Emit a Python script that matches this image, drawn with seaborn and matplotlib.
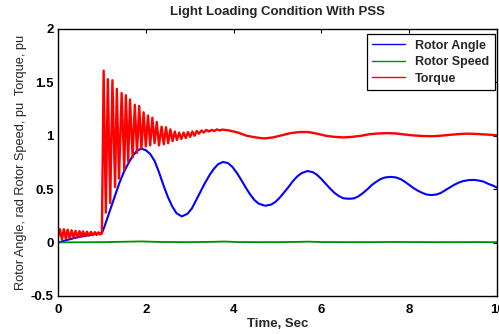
import seaborn as sns
import matplotlib.pyplot as plt
import pandas as pd
import matplotlib.ticker as mtick

# values
angle_t = [0.0, 0.25, 0.5, 0.75, 1.0, 1.05, 1.1, 1.2, 1.3, 1.4, 1.5, 1.6, 1.7, 1.8, 1.9,
           2.0, 2.1, 2.2, 2.3, 2.4, 2.5, 2.6, 2.7, 2.82, 2.95, 3.05, 3.15, 3.25, 3.35, 3.45,
           3.55, 3.65, 3.76, 3.87, 3.97, 4.07, 4.17, 4.27, 4.37, 4.47, 4.57, 4.72, 4.85, 4.95,
           5.05, 5.15, 5.25, 5.35, 5.45, 5.55, 5.68, 5.8, 5.9, 6.0, 6.1, 6.2, 6.3, 6.4, 6.5,
           6.64, 6.75, 6.85, 6.95, 7.05, 7.15, 7.25, 7.35, 7.45, 7.58, 7.7, 7.8, 7.9, 8.0, 8.1,
           8.2, 8.3, 8.4, 8.5, 8.62, 8.72, 8.82, 8.92, 9.02, 9.12, 9.22, 9.35, 9.48, 9.6, 9.7,
           9.8, 9.9, 10.0]
angle_v = [0.0, 0.03, 0.055, 0.072, 0.09, 0.14, 0.2, 0.32, 0.44, 0.56, 0.66, 0.74, 0.81, 0.86, 0.88,
           0.865, 0.83, 0.765, 0.66, 0.54, 0.43, 0.34, 0.275, 0.245, 0.27, 0.32, 0.4, 0.48, 0.56, 0.63,
           0.69, 0.735, 0.755, 0.745, 0.71, 0.655, 0.59, 0.52, 0.455, 0.4, 0.365, 0.345, 0.355, 0.38,
           0.42, 0.47, 0.52, 0.575, 0.62, 0.65, 0.67, 0.66, 0.635, 0.595, 0.55, 0.505, 0.465, 0.435, 0.415,
           0.41, 0.415, 0.435, 0.465, 0.5, 0.54, 0.57, 0.595, 0.61, 0.615, 0.61, 0.595, 0.57, 0.54, 0.51,
           0.485, 0.465, 0.45, 0.445, 0.45, 0.465, 0.49, 0.515, 0.54, 0.56, 0.575, 0.585, 0.587, 0.58, 0.57,
           0.55, 0.535, 0.515]

speed_t = [0.0, 1.0, 1.5, 1.9, 2.3, 3.0, 3.5, 3.8, 4.1, 5.0, 5.5, 5.7, 6.0, 7.0, 7.6, 8.0, 9.0, 9.5, 10.0]
speed_v = [0.002, 0.004, 0.008, 0.011, 0.006, 0.004, 0.007, 0.010, 0.005, 0.004, 0.007, 0.009, 0.005,
           0.004, 0.006, 0.005, 0.004, 0.005, 0.004]

torque_t = [0.0, 0.045, 0.09, 0.135, 0.18, 0.22, 0.265, 0.31, 0.355, 0.40, 0.445, 0.49, 0.53, 0.57,
            0.615, 0.66, 0.70, 0.75, 0.79, 0.84, 0.88, 0.92, 0.96, 0.99, 1.0,
            1.04, 1.09, 1.135, 1.19, 1.24, 1.30, 1.34, 1.39, 1.45, 1.51, 1.545, 1.60, 1.64, 1.70,
            1.75, 1.80, 1.85, 1.90, 1.95, 2.0, 2.05, 2.10, 2.15, 2.20, 2.25, 2.30, 2.36, 2.41,
            2.46, 2.51, 2.56, 2.61, 2.66, 2.71, 2.76, 2.81, 2.86, 2.91, 2.96, 3.01, 3.06, 3.11,
            3.16, 3.21, 3.27, 3.32, 3.38, 3.44, 3.5, 3.56, 3.62, 3.68, 3.74,
            3.9, 4.1, 4.3, 4.5, 4.7, 4.9, 5.1, 5.3, 5.5, 5.7, 5.9, 6.1, 6.3, 6.5, 6.7, 6.9, 7.1,
            7.3, 7.5, 7.7, 7.9, 8.1, 8.3, 8.5, 8.7, 8.9, 9.1, 9.3, 9.5, 9.7, 9.9, 10.0]
torque_v = [0.05, 0.125, 0.03, 0.125, 0.035, 0.12, 0.04, 0.115, 0.045, 0.11, 0.05, 0.108, 0.055, 0.105,
            0.06, 0.102, 0.065, 0.1, 0.07, 0.098, 0.072, 0.096, 0.076, 0.085, 0.085,
            1.61, 0.28, 1.53, 0.37, 1.52, 0.52, 1.44, 0.60, 1.40, 0.68, 1.38, 0.76, 1.34, 0.80,
            1.29, 0.84, 1.28, 0.88, 1.22, 0.90, 1.19, 0.91, 1.17, 0.93, 1.13, 0.91, 1.085, 0.92,
            1.08, 0.93, 1.06, 0.95, 1.04, 0.96, 1.03, 0.97, 1.03, 0.98, 1.035, 0.99, 1.04, 1.0,
            1.045, 1.02, 1.05, 1.03, 1.055, 1.04, 1.055, 1.045, 1.06, 1.05, 1.058,
            1.05, 1.03, 1.0, 0.985, 0.975, 0.985, 1.005, 1.025, 1.035, 1.035, 1.02, 1.0, 0.99, 0.985,
            0.99, 1.0, 1.015, 1.022, 1.025, 1.022, 1.012, 1.003, 0.998, 0.996, 1.0, 1.008, 1.015,
            1.02, 1.018, 1.013, 1.008, 1.005]

angle = pd.DataFrame({"t": angle_t, "v": angle_v})
speed = pd.DataFrame({"t": speed_t, "v": speed_v})
torque = pd.DataFrame({"t": torque_t, "v": torque_v})

sns.set_theme(style="white")
plt.rcParams['font.family'] = ['Liberation Sans', 'DejaVu Sans']

fig = plt.figure(figsize=(4.99, 3.34), dpi=100)
ax = fig.add_axes([0.1162, 0.1138, 0.8798, 0.7994])

sns.lineplot(data=angle, x="t", y="v", color="blue", lw=1.5, sort=False, estimator=None,
             label="Rotor Angle", ax=ax)
sns.lineplot(data=speed, x="t", y="v", color=(0, 0.55, 0), lw=1.3, sort=False, estimator=None,
             label="Rotor Speed", ax=ax)
sns.lineplot(data=torque, x="t", y="v", color="red", lw=1.7, sort=False, estimator=None,
             label="Torque", ax=ax)

ax.set_xlim(0, 10)
ax.set_ylim(-0.5, 2)
ax.xaxis.set_major_locator(mtick.MultipleLocator(2))
ax.yaxis.set_major_locator(mtick.MultipleLocator(0.5))
ax.yaxis.set_major_formatter(mtick.FormatStrFormatter('%g'))

ax.tick_params(direction='in', length=3, width=0.8, top=True, right=True,
               labelsize=9.5, pad=3, colors='black')
ax.tick_params(axis='x', pad=6)
for lab in ax.get_xticklabels() + ax.get_yticklabels():
    lab.set_fontweight('bold')
for sp in ax.spines.values():
    sp.set_color('black')
    sp.set_linewidth(1.0)

ax.set_title("Light Loading Condition With PSS", fontsize=9.5, fontweight='bold', pad=10)
ax.set_xlabel("Time, Sec", fontsize=9.5, fontweight='bold', labelpad=1)
ax.set_ylabel("Rotor Angle, rad Rotor Speed, pu  Torque, pu", fontsize=9.2, labelpad=3)

leg = ax.legend(loc='upper right', bbox_to_anchor=(1.0, 0.99), fancybox=False, framealpha=1,
                edgecolor='black', prop={'weight': 'bold', 'size': 9}, handlelength=2.6,
                borderaxespad=0.2, labelspacing=0.35, borderpad=0.45)
leg.get_frame().set_linewidth(0.9)
for line in leg.get_lines():
    line.set_linewidth(1.0)

fig.savefig("out.png", dpi=100)
